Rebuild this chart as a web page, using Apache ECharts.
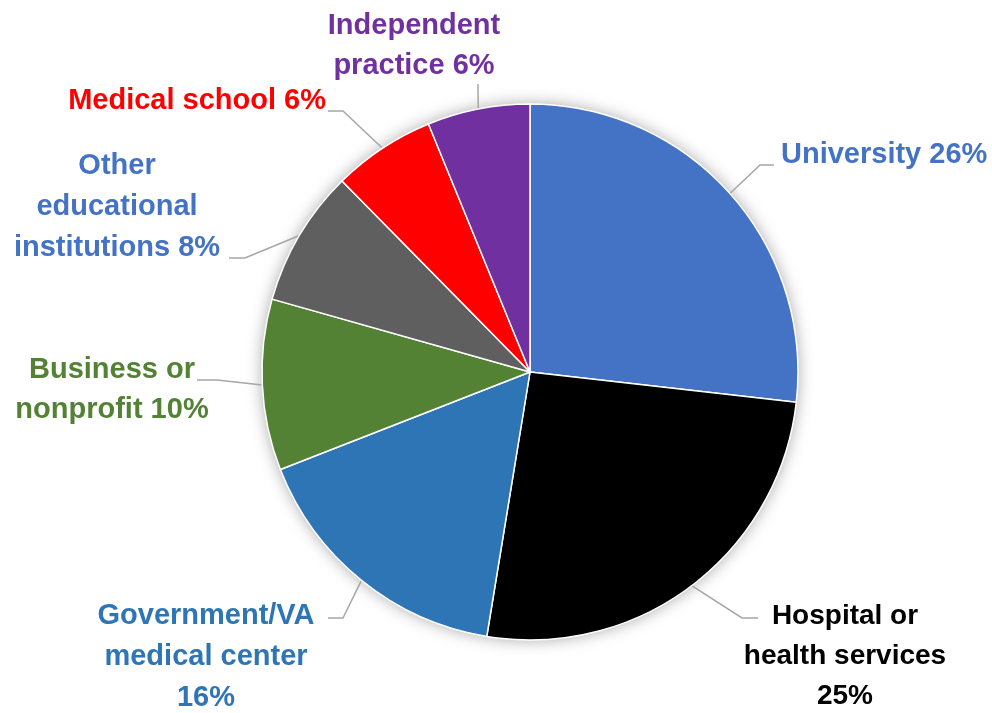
<!DOCTYPE html>
<html>
<head>
<meta charset="utf-8">
<script src="https://cdn.jsdelivr.net/npm/echarts@6/dist/echarts.min.js"></script>
<style>
  html, body { margin: 0; padding: 0; background: #ffffff; }
  #chart { width: 992px; height: 713px; }
</style>
</head>
<body>
<div id="chart"></div>
<script>
// ---- data ----
var categories = [
  'University',
  'Hospital or\nhealth services',
  'Government/VA\nmedical center',
  'Business or\nnonprofit',
  'Other\neducational\ninstitutions',
  'Medical school',
  'Independent\npractice'
];
var percentValues = [26, 25, 16, 10, 8, 6, 6];
// separator between name and value in each label
var valueSeparators = [' ', '\n', '\n', ' ', ' ', ' ', ' '];

// ---- styles ----
var sliceColors = ['#4472C4', '#000000', '#2E75B6', '#548235', '#5F5F5F', '#FF0000', '#7030A0'];
var labelColors = ['#4472C4', '#000000', '#2E75B6', '#548235', '#4472C4', '#FF0000', '#7030A0'];
var labelFontSizes = [29, 28, 29, 29, 29, 29, 29];
var labelLineHeights = [40, 40, 41, 40, 41, 40, 40];
var labelPlace = [
  { x: 781, y: 155, align: 'left',   va: 'middle', bend: [760, 165], end: [774, 165] },
  { x: 845, y: 596, align: 'center', va: 'top',    bend: [742, 618], end: [758, 618] },
  { x: 206, y: 595, align: 'center', va: 'top',    bend: [343, 618], end: [328, 618] },
  { x: 112, y: 350, align: 'center', va: 'top',    bend: [217, 380], end: [197, 380] },
  { x: 117, y: 145, align: 'center', va: 'top',    bend: [245, 258], end: [229, 258] },
  { x: 326, y: 101, align: 'right',  va: 'middle', bend: [343, 111], end: [328, 111] },
  { x: 414, y: 6,   align: 'center', va: 'top',    bend: [478, 90],  end: [478, 84] }
];

var pieData = categories.map(function (name, i) {
  return {
    name: name,
    value: percentValues[i],
    itemStyle: { color: sliceColors[i] },
    label: {
      color: labelColors[i],
      fontSize: labelFontSizes[i],
      lineHeight: labelLineHeights[i]
    }
  };
});

var chart = echarts.init(document.getElementById('chart'), null, { renderer: 'canvas' });
chart.setOption({
  animation: false,
  backgroundColor: '#ffffff',
  series: [
    {
      type: 'pie',
      silent: true,
      center: [530, 372],
      radius: 268,
      label: { show: false },
      labelLine: { show: false },
      itemStyle: {
        color: '#ffffff',
        shadowBlur: 16,
        shadowColor: 'rgba(0,0,0,0.35)'
      },
      data: [{ value: 1, name: '' }],
      z: 1
    },
    {
      type: 'pie',
      center: [530, 372],
      radius: 268,
      startAngle: 90,
      clockwise: true,
      z: 2,
      itemStyle: { borderColor: '#ffffff', borderWidth: 1.5 },
      label: {
        show: true,
        position: 'outside',
        fontFamily: 'Liberation Sans',
        fontWeight: 'bold',
        fontSize: 29,
        formatter: function (p) {
          return p.name + valueSeparators[p.dataIndex] + p.value + '%';
        }
      },
      labelLine: {
        show: true,
        length: 30,
        length2: 15,
        lineStyle: { color: '#A6A6A6', width: 1.5 }
      },
      labelLayout: function (params) {
        var lp = labelPlace[params.dataIndex];
        var start = params.labelLinePoints ? params.labelLinePoints[0] : lp.bend;
        return {
          x: lp.x,
          y: lp.y,
          align: lp.align,
          verticalAlign: lp.va,
          labelLinePoints: [start, lp.bend, lp.end]
        };
      },
      data: pieData
    }
  ]
});
</script>
</body>
</html>
